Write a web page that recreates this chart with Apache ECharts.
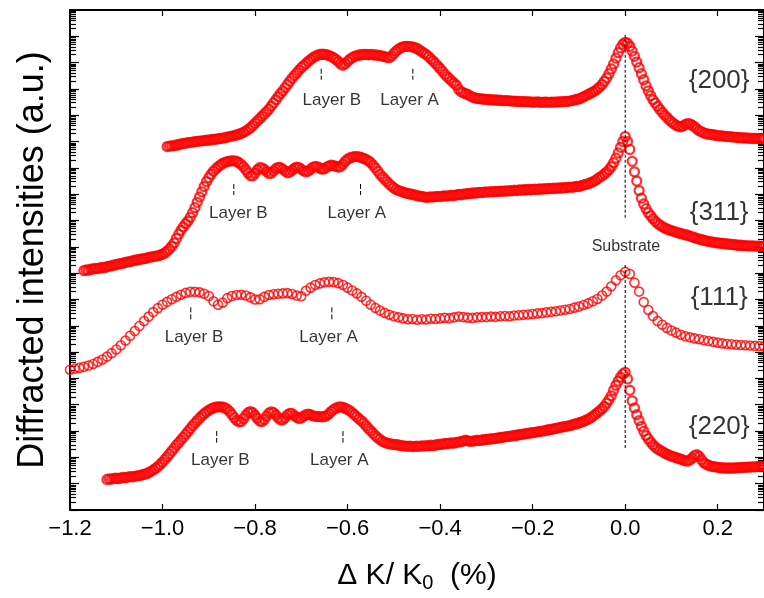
<!DOCTYPE html>
<html><head><meta charset="utf-8">
<script src="https://cdn.jsdelivr.net/npm/echarts@6/dist/echarts.min.js"></script>
<style>html,body{margin:0;padding:0;background:#fff}#c{width:764px;height:598px}</style>
</head><body><div id="c"></div>
<script>
// x tick labels (ΔK/K0, %)
const xTicks = [-1.2, -1.0, -0.8, -0.6, -0.4, -0.2, 0.0, 0.2];
// y axis decades (log10 of intensity, a.u.)
const yDecades = [0,1,2,3,4,5,6,7,8,9,10,11,12,13,14,15,16,17,18,19];

// sampling grids (x start, step) of each measured profile
const x200 = {start: -0.99, step: 0.005};
const x311 = {start: -1.17, step: 0.005};
const x111 = {start: -1.20, step: 0.01};
const x220 = {start: -1.12, step: 0.005};

// log10 diffracted intensity (a.u., curves offset vertically)
const logI200 = [
 13.81,13.83,13.84,13.85,13.87,13.88,13.91,13.93,
 13.94,13.96,13.97,13.98,14.00,14.01,14.02,14.03,14.04,14.05,
 14.05,14.07,14.08,14.09,14.10,14.12,14.13,14.15,14.17,14.19,
 14.21,14.23,14.25,14.28,14.31,14.35,14.40,14.46,14.53,14.61,
 14.70,14.79,14.87,14.96,15.05,15.14,15.23,15.35,15.47,15.59,
 15.71,15.83,15.93,16.05,16.17,16.29,16.41,16.51,16.61,16.71,
 16.81,16.89,16.97,17.05,17.12,17.19,17.24,17.28,17.31,17.32,
 17.31,17.30,17.27,17.23,17.18,17.12,17.04,16.95,16.90,16.96,
 17.05,17.13,17.19,17.24,17.27,17.29,17.30,17.31,17.31,17.30,
 17.31,17.30,17.29,17.28,17.27,17.25,17.23,17.20,17.19,17.25,
 17.35,17.44,17.51,17.57,17.60,17.62,17.62,17.61,17.60,17.57,
 17.54,17.48,17.42,17.36,17.31,17.23,17.14,17.06,16.97,16.87,
 16.78,16.67,16.56,16.47,16.39,16.30,16.22,16.14,15.99,15.90,
 15.86,15.82,15.79,15.73,15.69,15.66,15.64,15.63,15.62,15.61,
 15.60,15.59,15.59,15.58,15.58,15.57,15.57,15.56,15.56,15.56,
 15.55,15.54,15.54,15.53,15.53,15.52,15.52,15.52,15.51,15.51,
 15.50,15.50,15.51,15.50,15.49,15.50,15.50,15.49,15.50,15.50,
 15.50,15.51,15.51,15.52,15.52,15.53,15.54,15.56,15.58,15.60,
 15.62,15.66,15.70,15.75,15.79,15.84,15.88,15.93,16.00,16.07,
 16.17,16.29,16.42,16.58,16.76,16.95,17.17,17.38,17.56,17.70,
 17.77,17.74,17.62,17.44,17.24,17.02,16.81,16.58,16.35,16.12,
 15.93,15.75,15.59,15.46,15.34,15.22,15.11,15.01,14.92,14.83,
 14.75,14.68,14.62,14.58,14.56,14.59,14.65,14.68,14.67,14.62,
 14.56,14.48,14.41,14.37,14.33,14.30,14.28,14.27,14.26,14.24,
 14.23,14.22,14.22,14.20,14.19,14.19,14.18,14.17,14.16,14.15,
 14.15,14.14,14.14,14.13,14.13,14.12,14.12,14.12,14.11,14.11,
 14.11
];
const logI311 = [
 9.10,9.12,9.11,9.15,
 9.16,9.18,9.17,9.20,9.22,9.21,9.25,9.27,9.28,9.31,
 9.32,9.35,9.36,9.38,9.41,9.43,9.44,9.47,9.49,9.50,
 9.52,9.54,9.55,9.57,9.60,9.61,9.63,9.65,9.66,9.69,
 9.72,9.77,9.84,9.92,10.02,10.15,10.32,10.48,10.63,10.76,
 10.88,10.98,11.12,11.30,11.49,11.69,11.89,12.09,12.29,12.48,
 12.63,12.76,12.87,12.96,13.04,13.11,13.17,13.21,13.24,13.26,
 13.27,13.27,13.25,13.20,13.13,13.04,12.93,12.81,12.71,12.70,
 12.80,12.93,13.01,13.00,12.94,12.86,12.79,12.80,12.88,12.97,
 13.02,13.01,12.95,12.88,12.82,12.84,12.91,12.98,13.03,13.01,
 12.95,12.89,12.85,12.88,12.95,13.02,13.06,13.04,12.99,12.95,
 12.97,13.03,13.08,13.10,13.09,13.06,13.03,13.05,13.14,13.25,
 13.33,13.38,13.41,13.43,13.43,13.42,13.39,13.36,13.32,13.27,
 13.20,13.10,13.00,12.88,12.76,12.66,12.57,12.48,12.39,12.31,
 12.24,12.18,12.14,12.11,12.08,12.05,12.03,12.01,11.99,11.97,
 11.95,11.93,11.92,11.90,11.88,11.89,11.90,11.89,11.91,11.92,
 11.91,11.93,11.94,11.93,11.95,11.96,11.95,11.97,11.99,11.98,
 12.00,12.01,12.02,12.03,12.05,12.04,12.06,12.07,12.06,12.08,
 12.09,12.08,12.10,12.09,12.11,12.10,12.12,12.11,12.13,12.12,
 12.14,12.13,12.15,12.14,12.16,12.15,12.17,12.16,12.18,12.17,
 12.18,12.19,12.18,12.20,12.19,12.21,12.20,12.22,12.21,12.23,
 12.22,12.24,12.23,12.25,12.24,12.26,12.27,12.26,12.28,12.30,
 12.29,12.33,12.35,12.37,12.40,12.44,12.47,12.52,12.58,12.64,
 12.70,12.77,12.84,12.93,13.05,13.20,13.37,13.57,13.78,14.00,
 14.19,14.00,13.70,13.25,12.85,12.50,12.14,11.85,11.63,11.45,
 11.30,11.18,11.07,10.97,10.89,10.83,10.77,10.72,10.68,10.64,
 10.62,10.59,10.56,10.53,10.51,10.48,10.46,10.44,10.41,10.38,
 10.35,10.32,10.29,10.27,10.25,10.23,10.21,10.19,10.18,10.16,
 10.15,10.14,10.13,10.12,10.11,10.10,10.09,10.08,10.07,10.06,
 10.06,10.05,10.05,10.04,10.04,10.04,10.03,10.03,10.03,10.02,
 10.02
];
const logI111 = [
 5.33,5.37,5.40,5.44,5.49,5.55,5.63,5.72,5.83,5.96,
 6.10,6.26,6.44,6.62,6.80,6.99,7.18,7.35,7.52,7.67,
 7.80,7.91,8.01,8.10,8.18,8.25,8.29,8.29,8.27,8.22,
 8.13,7.93,7.80,7.88,8.05,8.13,8.17,8.18,8.15,8.08,
 8.00,8.01,8.10,8.17,8.20,8.22,8.23,8.24,8.21,8.15,
 8.12,8.33,8.45,8.55,8.61,8.65,8.67,8.66,8.62,8.55,
 8.45,8.34,8.23,8.10,7.95,7.80,7.68,7.58,7.49,7.42,
 7.36,7.32,7.28,7.25,7.26,7.23,7.25,7.24,7.27,7.26,
 7.28,7.30,7.29,7.32,7.35,7.33,7.31,7.30,7.32,7.33,
 7.33,7.35,7.34,7.36,7.37,7.36,7.39,7.40,7.42,7.43,
 7.45,7.47,7.48,7.51,7.53,7.55,7.58,7.61,7.64,7.69,
 7.73,7.79,7.85,7.93,8.02,8.15,8.30,8.50,8.73,8.92,
 9.05,8.97,8.64,8.30,7.90,7.60,7.37,7.18,7.04,6.92,
 6.82,6.74,6.66,6.60,6.56,6.52,6.49,6.45,6.42,6.39,
 6.36,6.33,6.31,6.30,6.28,6.27,6.26,6.25,6.24,6.23,
 6.22
];
const logI220 = [
 1.16,1.18,1.17,1.20,
 1.21,1.19,1.22,1.24,1.23,1.25,1.27,1.26,1.28,1.30,
 1.31,1.33,1.35,1.38,1.42,1.47,1.52,1.58,1.65,1.73,
 1.82,1.92,2.02,2.13,2.24,2.35,2.46,2.56,2.66,2.76,
 2.87,2.98,3.09,3.20,3.30,3.40,3.49,3.58,3.66,3.73,
 3.79,3.84,3.88,3.91,3.92,3.92,3.91,3.88,3.83,3.74,
 3.63,3.51,3.41,3.35,3.36,3.47,3.60,3.70,3.74,3.70,
 3.60,3.48,3.38,3.36,3.44,3.57,3.68,3.73,3.70,3.61,
 3.50,3.43,3.43,3.51,3.61,3.67,3.66,3.59,3.52,3.48,
 3.50,3.57,3.62,3.64,3.62,3.58,3.56,3.55,3.55,3.54,
 3.55,3.59,3.66,3.75,3.82,3.87,3.91,3.92,3.90,3.86,
 3.82,3.77,3.70,3.62,3.54,3.46,3.39,3.30,3.20,3.10,
 3.01,2.92,2.83,2.75,2.68,2.61,2.57,2.54,2.52,2.50,
 2.49,2.48,2.47,2.45,2.44,2.43,2.42,2.43,2.41,2.42,
 2.43,2.42,2.44,2.43,2.45,2.44,2.46,2.45,2.47,2.48,
 2.50,2.49,2.53,2.52,2.54,2.55,2.54,2.57,2.58,2.60,
 2.62,2.65,2.63,2.61,2.62,2.63,2.65,2.64,2.66,2.67,
 2.68,2.69,2.70,2.71,2.72,2.74,2.75,2.76,2.78,2.79,
 2.80,2.82,2.83,2.84,2.86,2.87,2.88,2.90,2.91,2.93,
 2.94,2.95,2.97,2.98,3.00,3.01,3.03,3.05,3.06,3.08,
 3.10,3.12,3.14,3.16,3.17,3.19,3.21,3.23,3.26,3.28,
 3.31,3.34,3.37,3.41,3.45,3.50,3.56,3.63,3.70,3.77,
 3.85,3.94,4.06,4.19,4.34,4.55,4.74,4.90,5.05,5.17,
 5.23,4.98,4.55,4.15,3.88,3.62,3.40,3.18,2.99,2.83,
 2.70,2.58,2.48,2.39,2.32,2.27,2.22,2.17,2.12,2.08,
 2.05,2.02,1.99,1.96,1.93,1.90,1.87,1.86,1.90,1.98,
 2.07,2.10,2.03,1.91,1.80,1.74,1.70,1.67,1.65,1.64,
 1.62,1.61,1.60,1.60,1.59,1.60,1.59,1.60,1.60,1.61,
 1.61,1.62,1.62,1.63,1.63,1.64,1.64,1.65,1.66,1.66,
 1.67
];

// annotation positions (data coordinates)
const substrateLines = [[0, 18.06, 11.04], [0, 9.31, 2.29]];
const layerMarks = [
  [-0.657, 16.77, 16.35], [-0.459, 16.77, 16.35],
  [-0.846, 12.39, 11.97], [-0.572, 12.39, 11.97],
  [-0.939, 7.70, 7.24], [-0.634, 7.70, 7.24],
  [-0.883, 3.00, 2.56], [-0.610, 3.00, 2.56]
];
const layerLabels = [
  ['Layer B', -0.634, 15.58], ['Layer A', -0.466, 15.58],
  ['Layer B', -0.836, 11.28], ['Layer A', -0.580, 11.28],
  ['Layer B', -0.932, 6.57], ['Layer A', -0.641, 6.57],
  ['Layer B', -0.875, 1.89], ['Layer A', -0.618, 1.89]
];
const reflLabels = [['{200}', 0.203, 16.31], ['{311}', 0.203, 11.30], ['{111}', 0.203, 8.05], ['{220}', 0.203, 3.17]];
const substrateLabel = ['Substrate', 0.0015, 10.01];

function toPairs(arr, g) { return arr.map((v, i) => [+(g.start + i * g.step).toFixed(3), v]); }

const RED = '#ff0000';
const FONT = "'Liberation Sans', Arial, sans-serif";

const minorVals = [];
for (let n = 0; n < yDecades.length - 1; n++) for (let k = 2; k <= 9; k++) minorVals.push(yDecades[n] + Math.log10(k));

function yAx(pos, custom, len, line, name) {
  return {
    type: 'value', position: pos, min: 0, max: 19, scale: false,
    axisLine: {show: line, onZero: false, lineStyle: {color: '#000', width: 2}},
    axisTick: {show: true, inside: true, length: len, customValues: custom, lineStyle: {color: '#000', width: 1.2}},
    axisLabel: {show: false}, splitLine: {show: false},
    name: name || '', nameLocation: 'middle', nameGap: 19,
    nameTextStyle: {fontFamily: FONT, fontSize: 36, color: '#000'}
  };
}

function curve(arr, g, bw) {
  return {
    type: 'scatter', data: toPairs(arr, g), symbol: 'circle', symbolSize: 9,
    itemStyle: {color: 'rgba(0,0,0,0)', borderColor: RED, borderWidth: bw},
    silent: true, clip: true
  };
}

function seg(x, a, b, dash) {
  return {type: 'line', data: [[x, a], [x, b]], symbol: 'none', silent: true,
    lineStyle: {color: '#000', width: 1, type: dash}, z: 5};
}

function labelSeries(items, size) {
  return {
    type: 'scatter', symbolSize: 1, silent: true, z: 6,
    itemStyle: {color: 'rgba(0,0,0,0)'},
    data: items.map(t => ({name: t[0], value: [t[1], t[2]]})),
    label: {show: true, position: 'inside', formatter: '{b}', color: '#000', fontFamily: FONT, fontSize: size}
  };
}

const chart = echarts.init(document.getElementById('c'), null, {renderer: 'canvas'});
const series = [
  curve(logI200, x200, 2.3), curve(logI311, x311, 2.3), curve(logI111, x111, 1.6), curve(logI220, x220, 2.3)
];
substrateLines.forEach(s => series.push(seg(s[0], s[1], s[2], [3, 2])));
layerMarks.forEach(s => series.push(seg(s[0], s[1], s[2], [5, 2])));
series.push(labelSeries(layerLabels, 17));
series.push(labelSeries(reflLabels, 26));
series.push(labelSeries([substrateLabel], 16));

chart.setOption({
  animation: false,
  backgroundColor: '#fff',
  grid: {left: 70, right: 0, top: 10, bottom: 82, containLabel: false},
  xAxis: [{
    type: 'value', position: 'bottom', min: -1.2, max: 0.3,
    axisLine: {onZero: false, lineStyle: {color: '#000', width: 2}},
    axisTick: {inside: true, length: 6, customValues: xTicks, lineStyle: {color: '#000', width: 1.2}},
    axisLabel: {customValues: xTicks, color: '#000', fontFamily: FONT, fontSize: 22, margin: 8,
      formatter: v => (v < 0 ? '\u2212' : '') + Math.abs(v).toFixed(1)},
    splitLine: {show: false},
    name: 'Δ K/ K{s|0}  (%)', nameLocation: 'middle', nameGap: 49,
    nameTextStyle: {fontFamily: FONT, fontSize: 30, color: '#000', lineHeight: 34,
      rich: {s: {fontFamily: FONT, fontSize: 20, verticalAlign: 'bottom', lineHeight: 20, color: '#000'}}}
  }, {
    type: 'value', position: 'top', min: -1.2, max: 0.3,
    axisLine: {onZero: false, lineStyle: {color: '#000', width: 2}},
    axisTick: {inside: true, length: 6, customValues: xTicks, lineStyle: {color: '#000', width: 1.2}},
    axisLabel: {show: false}, splitLine: {show: false}
  }],
  yAxis: [
    yAx('left', yDecades, 9, true, 'Diffracted intensities (a.u.)'),
    yAx('left', minorVals, 6, false),
    yAx('right', yDecades, 9, true),
    yAx('right', minorVals, 6, false)
  ],
  series: series
});
</script></body></html>
